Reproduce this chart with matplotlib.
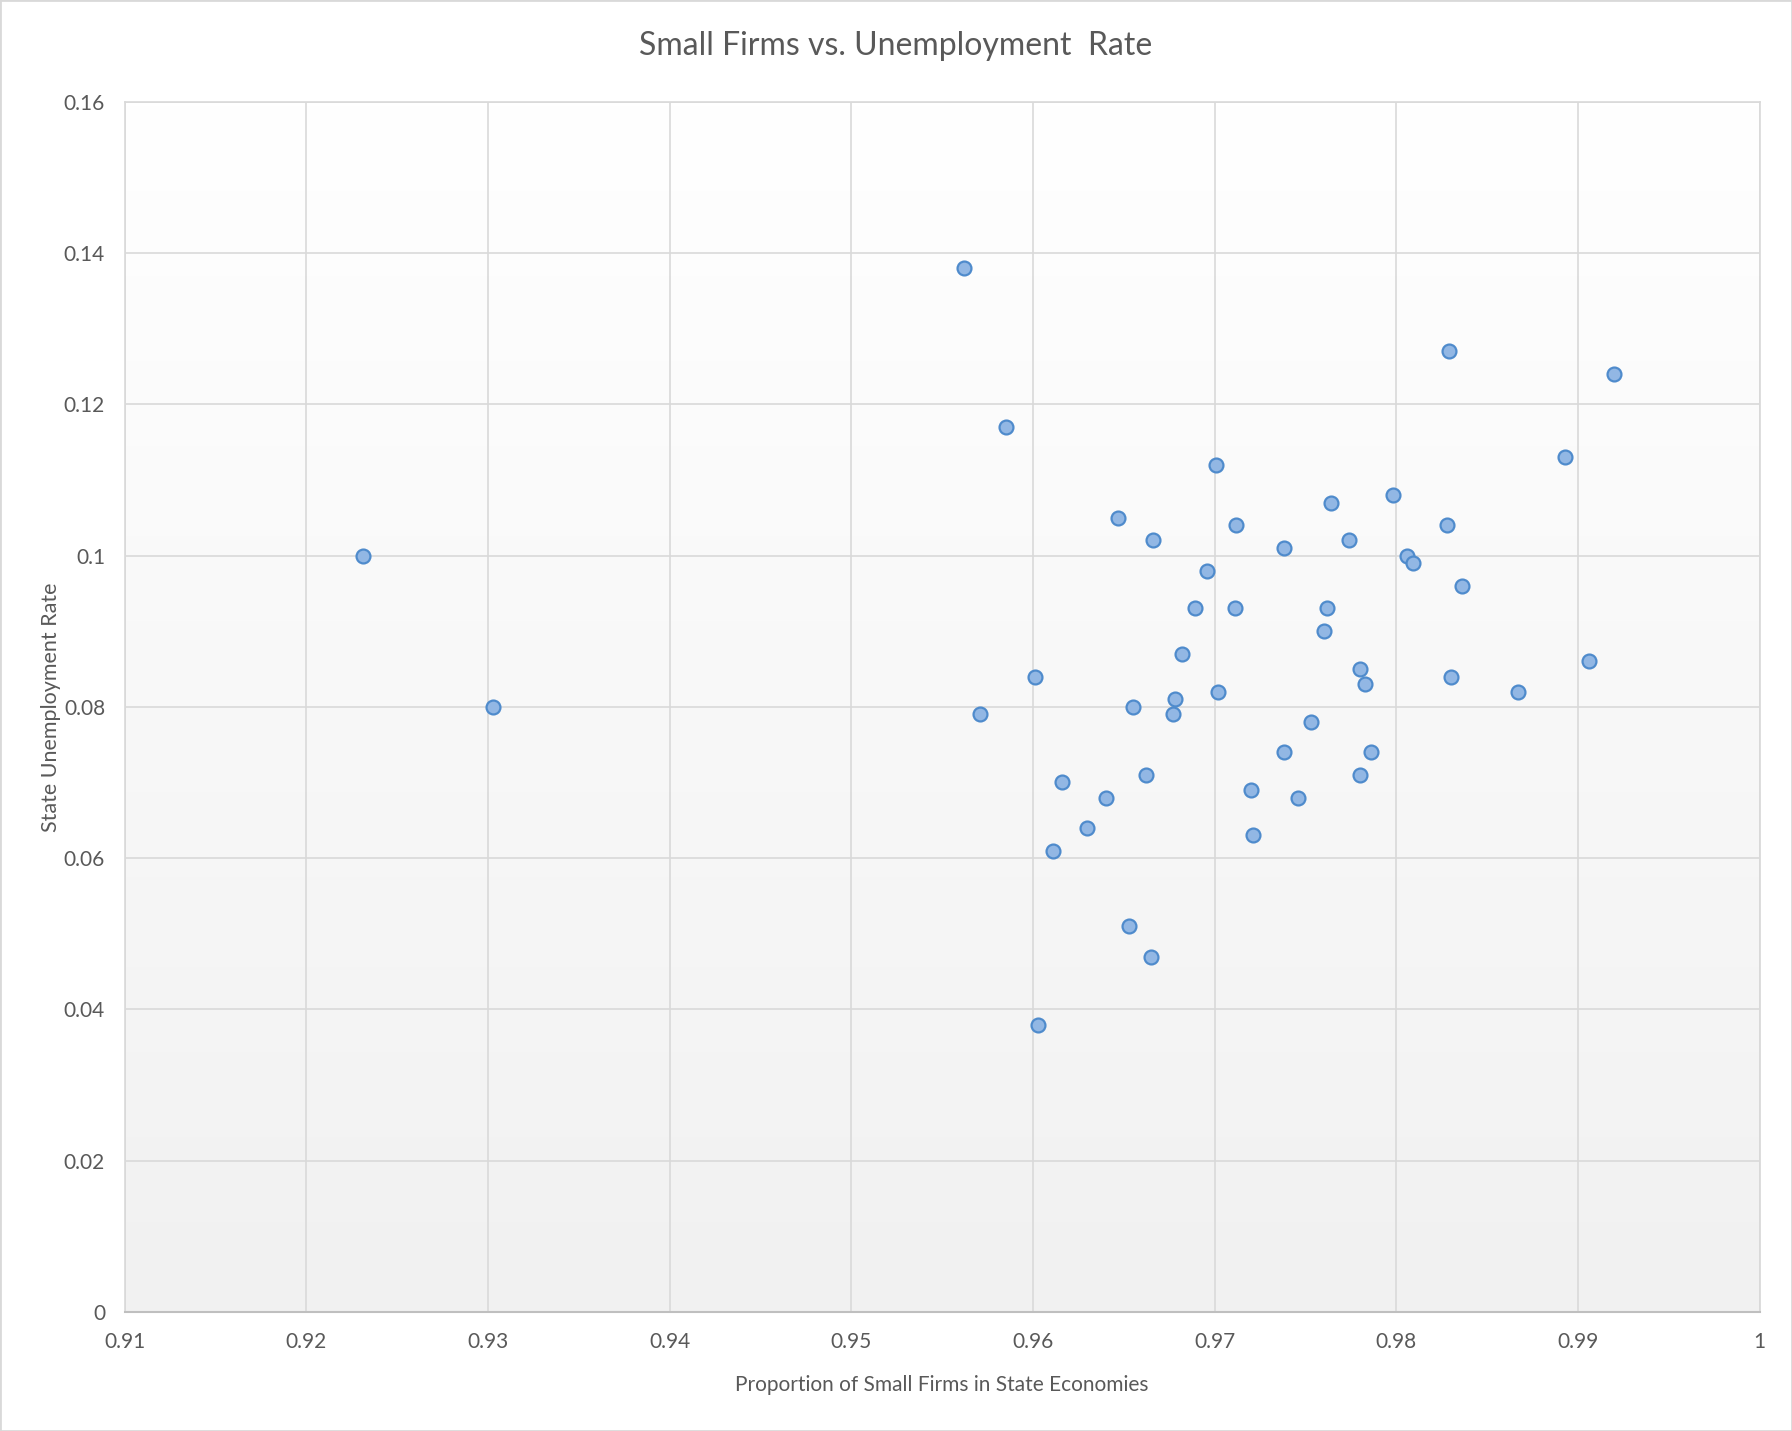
import matplotlib
matplotlib.use('Agg')
import matplotlib.pyplot as plt
import numpy as np
from matplotlib.colors import LinearSegmentedColormap
from matplotlib.patches import Rectangle

plt.rcParams['font.family'] = ['Lato', 'DejaVu Sans']

# proportion of small firms in each state economy
small_firms = [0.9231, 0.9303, 0.9562, 0.9585, 0.9571, 0.9601, 0.9603, 0.9611,
               0.9616, 0.9630, 0.9640, 0.9647, 0.9653, 0.9655, 0.9662, 0.9665,
               0.9666, 0.9677, 0.9678, 0.9682, 0.9689, 0.9696, 0.9701, 0.9702,
               0.9711, 0.9712, 0.9720, 0.9721, 0.9738, 0.9738, 0.9746, 0.9753,
               0.9760, 0.9762, 0.9764, 0.9774, 0.9780, 0.9780, 0.9783, 0.9786,
               0.9798, 0.9806, 0.9809, 0.9828, 0.9829, 0.9830, 0.9836, 0.9867,
               0.9893, 0.9906, 0.9920]
# state unemployment rate
unemployment = [0.100, 0.080, 0.138, 0.117, 0.079, 0.084, 0.038, 0.061,
                0.070, 0.064, 0.068, 0.105, 0.051, 0.080, 0.071, 0.047,
                0.102, 0.079, 0.081, 0.087, 0.093, 0.098, 0.112, 0.082,
                0.093, 0.104, 0.069, 0.063, 0.101, 0.074, 0.068, 0.078,
                0.090, 0.093, 0.107, 0.102, 0.085, 0.071, 0.083, 0.074,
                0.108, 0.100, 0.099, 0.104, 0.127, 0.084, 0.096, 0.082,
                0.113, 0.086, 0.124]

x_ticks = [0.91, 0.92, 0.93, 0.94, 0.95, 0.96, 0.97, 0.98, 0.99, 1.0]
x_labels = ['0.91', '0.92', '0.93', '0.94', '0.95', '0.96', '0.97', '0.98', '0.99', '1']
y_ticks = [0, 0.02, 0.04, 0.06, 0.08, 0.1, 0.12, 0.14, 0.16]
y_labels = ['0', '0.02', '0.04', '0.06', '0.08', '0.1', '0.12', '0.14', '0.16']

text_col = '#595959'
grid_col = '#d9d9d9'

fig = plt.figure(figsize=(17.92, 14.31), dpi=100)
ax = fig.add_axes([0.0695, 0.0831, 0.9125, 0.8459])

# background: white at the top fading to light grey at the bottom
grad = np.linspace(1, 0, 256).reshape(-1, 1)
cmap = LinearSegmentedColormap.from_list('bg', ['#f1f1f1', '#ffffff'])
ax.imshow(grad, extent=[0, 1, 0, 1], transform=ax.transAxes, cmap=cmap,
          aspect='auto', zorder=0, origin='upper')

ax.scatter(small_firms, unemployment, s=100, facecolor='#92b7e4',
           edgecolor='#4f8bcc', linewidth=1.6, zorder=3)

ax.set_xlim(0.91, 1.0)
ax.set_ylim(0, 0.16)
ax.set_xticks(x_ticks)
ax.set_xticklabels(x_labels)
ax.set_yticks(y_ticks)
ax.set_yticklabels(y_labels)
ax.grid(True, color=grid_col, linewidth=1.2, zorder=1)
ax.set_axisbelow(True)
ax.tick_params(length=0, labelsize=15, labelcolor=text_col, pad=14)
for side in ['top', 'right', 'left']:
    ax.spines[side].set_color(grid_col)
    ax.spines[side].set_linewidth(1.2)
ax.spines['bottom'].set_color('#bfbfbf')
ax.spines['bottom'].set_linewidth(1.5)

ax.set_xlabel('Proportion of Small Firms in State Economies', fontsize=15,
              color=text_col, labelpad=17)
ax.set_ylabel('State Unemployment Rate', fontsize=15.5, color=text_col,
              labelpad=2)
fig.text(0.5, 0.968, 'Small Firms vs. Unemployment  Rate', ha='center',
         va='center', fontsize=23, color=text_col)

fig.patches.append(Rectangle((0, 0), 1, 1, transform=fig.transFigure,
                             fill=False, edgecolor=grid_col, linewidth=2))

fig.savefig('out.png', dpi=100)
